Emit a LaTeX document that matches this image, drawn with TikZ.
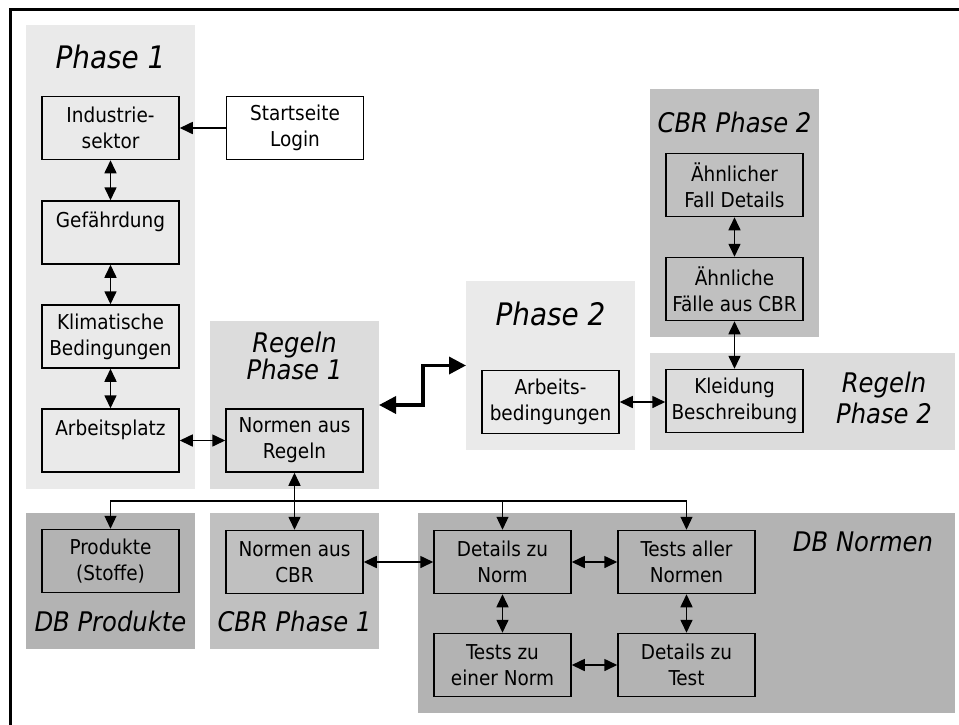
\documentclass[tikz,border=0pt]{standalone}
\usepackage{fontspec}
\setmainfont{DejaVu Sans Condensed}
\usetikzlibrary{arrows.meta}

\definecolor{paneLight}{HTML}{EAEAEA}
\definecolor{paneMid}{HTML}{DCDCDC}
\definecolor{paneCBR}{HTML}{C0C0C0}
\definecolor{paneDB}{HTML}{B3B3B3}

\tikzset{
  x=1pt, y=-1pt,
  panel/.style={fill=#1, draw=none, inner sep=0pt, outer sep=0pt},
  box/.style={draw, line width=1.5pt, minimum width=137pt, minimum height=63pt,
    inner sep=0pt, align=center, font=\fontsize{20.5}{26}\selectfont},
  bigtitle/.style={anchor=base, inner sep=0pt, font=\fontsize{31}{33}\selectfont\itshape},
  subtitle/.style={anchor=base, inner sep=0pt, font=\fontsize{27}{29}\selectfont\itshape},
  link/.style={line width=1.6pt, {Triangle[length=13pt,width=12pt]}-{Triangle[length=13pt,width=12pt]}},
  onelink/.style={line width=1.6pt, -{Triangle[length=13pt,width=12pt]}},
  busline/.style={line width=1.2pt, -{Triangle[length=13pt,width=12pt]}},
  biglink/.style={line width=3.5pt, {Triangle[length=17pt,width=17pt]}-{Triangle[length=17pt,width=17pt]}},
}

\begin{document}
\begin{tikzpicture}
\useasboundingbox (0,0) rectangle (959,724);
\fill[white] (0,0) rectangle (959,724);

% outer frame
\draw[line width=3pt] (10,730) -- (10,9.5) -- (965,9.5);

% group panels
\node[panel=paneLight, minimum width=169pt, minimum height=464pt] (p1)   at (110.5,257)   {};
\node[panel=paneMid,   minimum width=169pt, minimum height=168pt] (rp1)  at (294.5,405)   {};
\node[panel=paneLight, minimum width=169pt, minimum height=169pt] (p2)   at (550.5,365.5) {};
\node[panel=paneMid,   minimum width=305pt, minimum height=97pt]  (rp2)  at (802.5,401.5) {};
\node[panel=paneCBR,   minimum width=169pt, minimum height=248pt] (cbr2) at (734.5,213)   {};
\node[panel=paneDB,    minimum width=169pt, minimum height=136pt] (dbp)  at (110.5,581)   {};
\node[panel=paneCBR,   minimum width=169pt, minimum height=136pt] (cbr1) at (294.5,581)   {};
\node[panel=paneDB,    minimum width=537pt, minimum height=200pt] (dbn)  at (686.5,613)   {};

% panel titles
\node[bigtitle] (t1)  at (110.5,68)  {Phase 1};
\node[subtitle] (t2a) at (294.5,352) {Regeln};
\node[subtitle] (t2b) at (294.5,379) {Phase 1};
\node[bigtitle] (t3)  at (550.5,325) {Phase 2};
\node[subtitle] (t4a) at (884,392)   {Regeln};
\node[subtitle] (t4b) at (884,423)   {Phase 2};
\node[subtitle] (t5)  at (734.5,132) {CBR Phase 2};
\node[subtitle] (t6)  at (110.5,631) {DB Produkte};
\node[subtitle] (t7)  at (294.5,631) {CBR Phase 1};
\node[subtitle] (t8)  at (863,551)   {DB Normen};

% pages
\node[box] (ind)   at (110.5,128)   {Industrie-\\sektor};
\node[box, fill=white] (start) at (295,128) {Startseite\\Login};
\node[box] (gef)   at (110.5,232.5) {Gefährdung\\~};
\node[box] (klim)  at (110.5,336.5) {Klimatische\\Bedingungen};
\node[box] (arb)   at (110.5,440.5) {Arbeitsplatz\\~};
\node[box] (nar)   at (294.5,440.5) {Normen aus\\Regeln};
\node[box] (abed)  at (550.5,402)   {Arbeits-\\bedingungen};
\node[box] (kleid) at (734.5,401)   {Kleidung\\Beschreibung};
\node[box] (afc)   at (734.5,289)   {Ähnliche\\Fälle aus CBR};
\node[box] (afd)   at (734.5,185)   {Ähnlicher\\Fall Details};
\node[box] (prod)  at (110.5,561)   {Produkte\\(Stoffe)};
\node[box] (ncbr)  at (294.5,562)   {Normen aus\\CBR};
\node[box] (dzn)   at (502.5,562)   {Details zu\\Norm};
\node[box] (tan)   at (686.5,562)   {Tests aller\\Normen};
\node[box] (tzn)   at (502.5,665)   {Tests zu\\einer Norm};
\node[box] (dzt)   at (686.5,665)   {Details zu\\Test};

% connectors
\draw[onelink] (start) -- (ind);
\draw[link] (ind) -- (gef);
\draw[link] (gef) -- (klim);
\draw[link] (klim) -- (arb);
\draw[link] (arb) -- (nar);
\draw[link] (nar) -- (ncbr);
\draw[link] (ncbr) -- (dzn);
\draw[link] (dzn) -- (tan);
\draw[link] (dzn) -- (tzn);
\draw[link] (tan) -- (dzt);
\draw[link] (tzn) -- (dzt);
\draw[link] (abed.east) -- (abed.east -| kleid.west);
\draw[link] (kleid) -- (afc);
\draw[link] (afc) -- (afd);

% distribution line below "Normen aus Regeln"
\coordinate (bus) at (294.5,501);
\draw[busline] (bus) -| (prod.north);
\draw[busline] (bus) -| (dzn.north);
\draw[busline] (dzn.north |- bus) -| (tan.north);

% link between the two rule phases
\draw[biglink] (rp1.east) -- ++(44,0) |- (p2.west);
\end{tikzpicture}
\end{document}
